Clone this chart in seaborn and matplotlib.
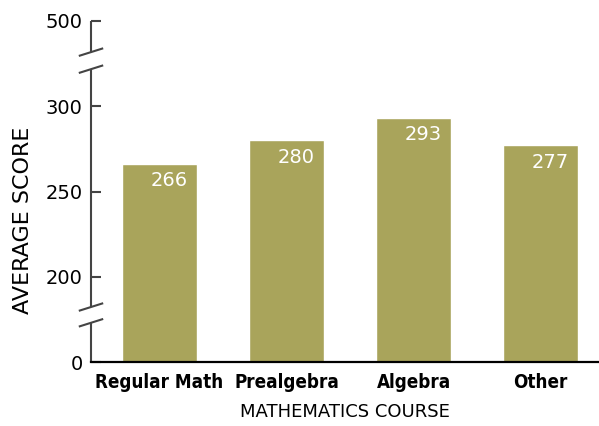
import numpy as np
import seaborn as sns
import matplotlib.pyplot as plt

courses = ['Regular Math', 'Prealgebra', 'Algebra', 'Other']
scores = [266, 280, 293, 277]
y_ticks = [0, 200, 250, 300, 500]

# broken axis: 0-200 and 300-500 squeezed into one step each
scale_pts = [0, 200, 300, 500]
scale_pos = [0, 1, 3, 4]


def forward(v):
    return np.interp(v, scale_pts, scale_pos)


def inverse(v):
    return np.interp(v, scale_pos, scale_pts)


sns.set_style('white')
plt.rcParams['font.family'] = ['DejaVu Sans']
plt.rcParams['text.color'] = 'black'
plt.rcParams['xtick.color'] = 'black'
plt.rcParams['ytick.color'] = 'black'

fig = plt.figure(figsize=(5.99, 4.26), dpi=100)
ax = fig.add_axes([91 / 599, 64 / 426, 508 / 599, 341 / 426])
ax.set_yscale('function', functions=(forward, inverse))

bar_color = '#a9a45b'
sns.barplot(x=courses, y=scores, color=bar_color, saturation=1, width=0.59, ax=ax)

ax.set_ylim(0, 500)
ax.set_xlim(-0.54, 3.46)
ax.set_yticks(y_ticks)
ax.set_yticklabels([str(t) for t in y_ticks])
ax.yaxis.set_minor_locator(plt.NullLocator())
ax.tick_params(axis='y', direction='in', length=7, width=1.5, color='#444444',
               labelcolor='black', labelsize=14, pad=6, left=True)
ax.tick_params(axis='x', length=0, pad=8, labelcolor='black')
for lab in ax.get_xticklabels():
    lab.set_family('DejaVu Sans')
    lab.set_stretch('condensed')
    lab.set_fontweight('bold')
    lab.set_fontsize(13.5)

ax.set_xlabel('')
ax.set_ylabel('')
for s in ['top', 'right', 'left']:
    ax.spines[s].set_visible(False)
ax.spines['bottom'].set_color('black')
ax.spines['bottom'].set_linewidth(1.6)

# left axis line with two breaks
ytr = ax.get_yaxis_transform()
axis_kw = dict(color='#444444', lw=1.5, transform=ytr, clip_on=False, solid_capstyle='butt')
for lo, hi in [(0, 92), (129, 387), (427, 500)]:
    ax.plot([0, 0], [lo, hi], **axis_kw)
for c in [92, 129, 387, 427]:
    ax.plot([-0.024, 0.024], [c - 9, c + 9], **axis_kw)

# value labels inside the bars
for i, v in enumerate(scores):
    ax.annotate(str(v), (i, v), xytext=(7, -12), textcoords='offset points',
                ha='center', va='center', color='white', fontsize=14)

fig.text(23 / 599, 206 / 426, 'AVERAGE SCORE', rotation=90, ha='center', va='center', fontsize=16)
fig.text(345 / 599, 14 / 426, 'MATHEMATICS COURSE', ha='center', va='center', fontsize=13)

fig.savefig('out.png', dpi=100)
